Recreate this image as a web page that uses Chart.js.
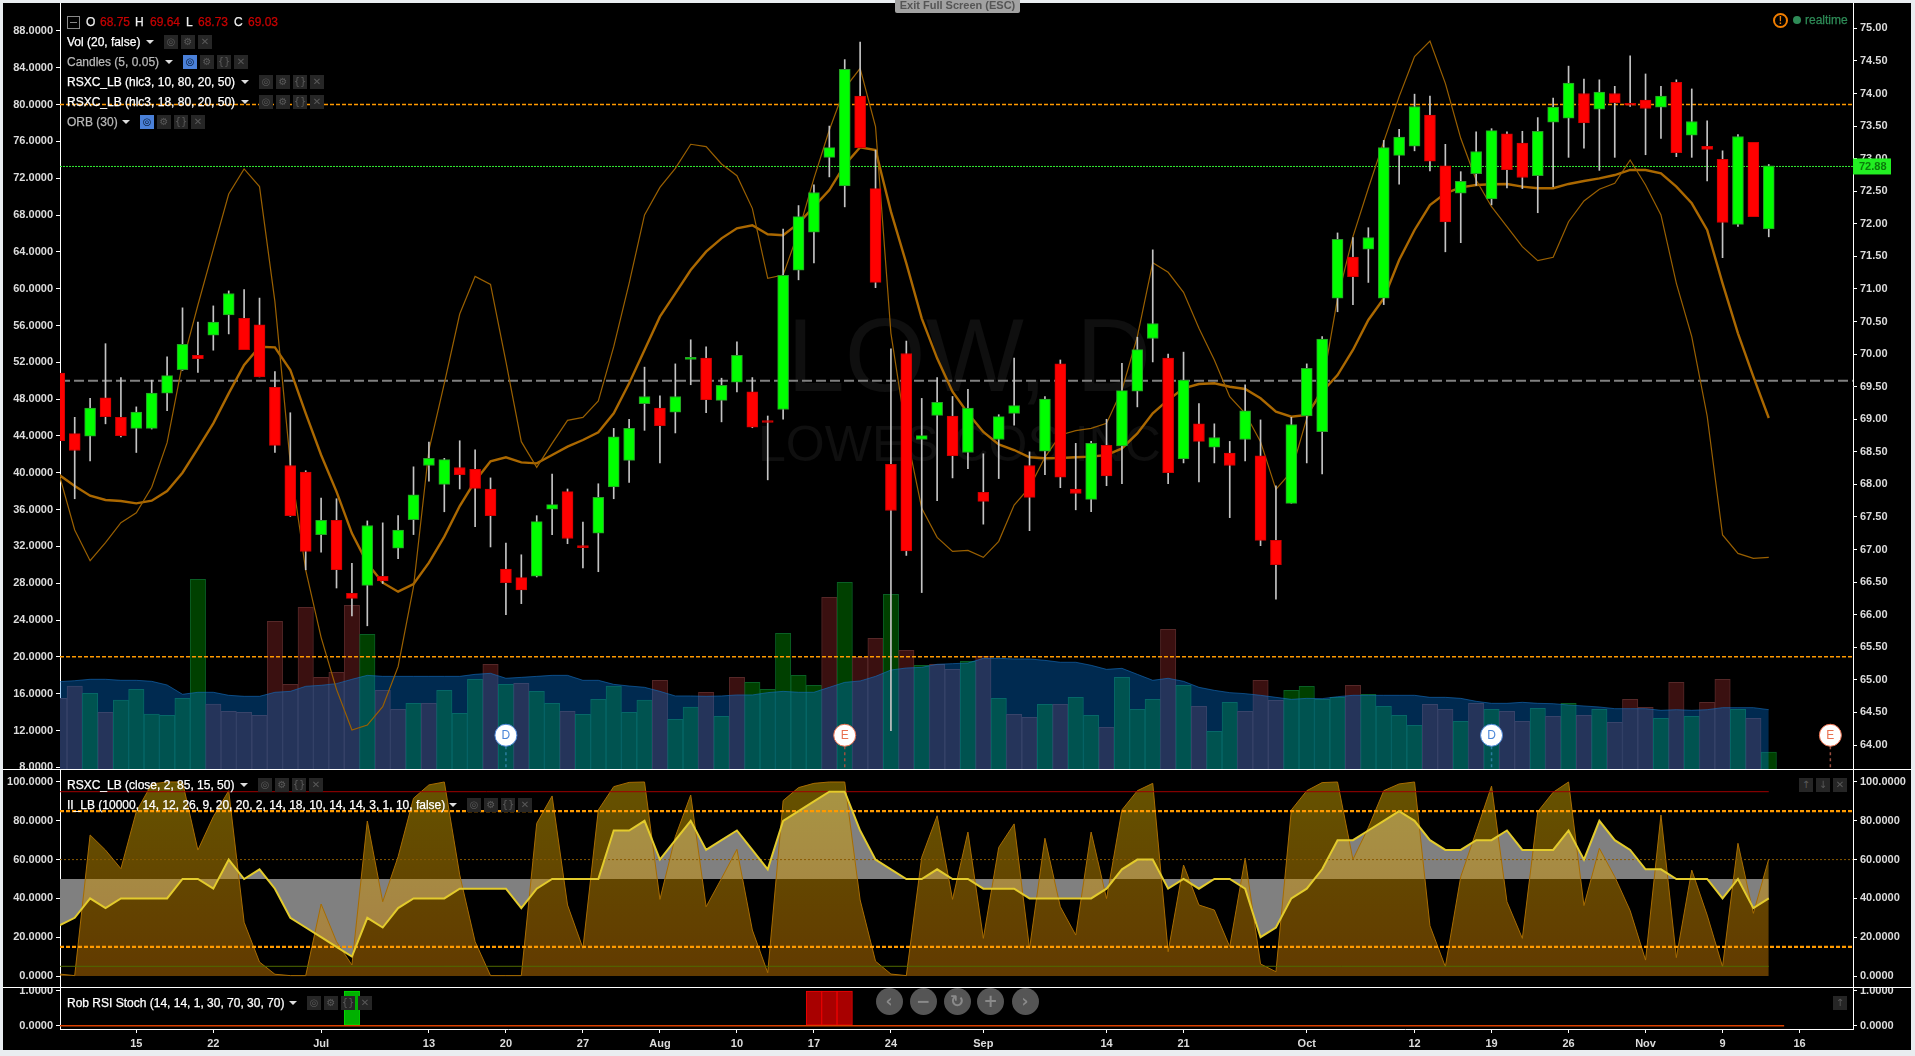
<!DOCTYPE html>
<html>
<head>
<meta charset="utf-8">
<title>LOW, D</title>
<script src="https://cdn.jsdelivr.net/npm/chart.js@4"></script>
<style>
  html, body { margin: 0; padding: 0; width: 1915px; height: 1056px; overflow: hidden; background: #e9edf0; font-family: "Liberation Sans", Arial, sans-serif; }
  #frame { position: absolute; left: 3px; top: 3px; width: 1908px; height: 1047px; background: #000; }
  canvas { position: absolute; left: 3px; }
  .t { position: absolute; white-space: nowrap; font-size: 12px; line-height: 14px; -webkit-text-stroke: 0.25px currentColor; }
  .ico { position: absolute; width: 14px; height: 14px; background: #262626; color: #5a5a5a; font-size: 10px; line-height: 14px; text-align: center; font-family: "DejaVu Sans"; }
  .caret { position: absolute; width: 0; height: 0; border-left: 4px solid transparent; border-right: 4px solid transparent; border-top: 4px solid #ddd; }
  .wm { position: absolute; color: #0f0f0f; white-space: nowrap; }
  .sep { position: absolute; left: 3px; width: 1908px; height: 1px; background: #fff; }
  .zb { position: absolute; top: 988px; width: 27px; height: 27px; border-radius: 14px; background: #555; color: #8a8a8a; font: bold 17px/27px "DejaVu Sans"; text-align: center; }
</style>
</head>
<body>
<div id="frame"></div>
<div class="wm" style="left:787px;top:300px;font-size:104px;line-height:110px">LOW, D</div>
<div class="wm" style="left:758px;top:417px;font-size:50px;line-height:54px">LOWES COS INC</div>
<canvas id="mainPane" width="1908" height="766" style="top:3px"></canvas>
<canvas id="midPane" width="1908" height="218" style="top:769px"></canvas>
<canvas id="lowPane" width="1908" height="63" style="top:987px"></canvas>
<div class="sep" style="top:769px"></div>
<div class="sep" style="top:987px"></div>
<div id="overlay"></div>
<script>
// one bar per trading day, Jun 8 to Nov 12
const xTickIdx = [5, 10, 17, 24, 29, 34, 39, 44, 49, 54, 60, 68, 73, 81, 88, 93, 98, 103, 108, 113];
const xTickLabels = ['15', '22', 'Jul', '13', '20', '27', 'Aug', '10', '17', '24', 'Sep', '14', '21', 'Oct', '12', '19', '26', 'Nov', '9', '16'];
const leftTicks = [8, 12, 16, 20, 24, 28, 32, 36, 40, 44, 48, 52, 56, 60, 64, 68, 72, 76, 80, 84, 88];
const rightTicks = [64, 64.5, 65, 65.5, 66, 66.5, 67, 67.5, 68, 68.5, 69, 69.5, 70, 70.5, 71, 71.5, 72, 72.5, 73, 73.5, 74, 74.5, 75];
const midTicks = [0, 20, 40, 60, 80, 100];
const lowTicks = [0, 1];

const opens = [69.71,68.78,68.74,69.33,69.03,68.86,68.86,69.40,69.76,69.98,
  70.29,70.60,70.55,70.45,69.49,68.29,68.19,67.23,67.45,66.33,
  66.45,66.59,67.02,67.46,68.29,68.00,68.26,68.23,67.93,66.70,
  66.57,66.59,67.62,67.89,67.04,67.25,67.96,68.37,69.24,69.17,
  69.11,69.92,69.94,69.29,69.57,69.42,68.97,69.15,71.29,71.87,
  73.02,72.58,73.96,72.54,68.31,70.01,68.69,69.06,69.05,68.49,
  67.88,68.69,69.09,68.29,68.51,69.85,67.93,67.77,68.60,68.59,
  69.43,70.24,69.94,68.39,68.93,68.57,68.48,68.69,68.44,67.14,
  67.71,69.05,68.81,70.86,71.49,71.61,70.86,73.05,73.19,73.67,
  72.89,72.47,72.77,72.38,73.38,73.24,72.74,73.56,73.62,74.00,
  73.76,74.00,73.83,73.90,73.79,74.17,73.36,73.19,72.99,71.99,
  73.25,71.92];
const highs = [69.71,69.03,69.32,70.16,69.64,69.19,69.60,69.96,70.71,70.49,
  70.74,70.97,70.99,70.86,69.73,69.10,68.21,67.79,67.78,66.79,
  67.44,67.41,67.52,68.27,68.65,68.40,68.67,68.53,68.10,67.10,
  66.92,67.52,68.16,67.93,67.42,68.01,68.86,69.00,69.80,69.36,
  69.85,70.22,70.11,69.63,70.19,69.64,69.05,71.92,72.28,72.60,
  73.50,74.52,74.79,73.13,70.08,70.20,69.32,69.64,69.35,69.46,
  68.47,69.07,69.94,68.50,69.35,69.91,68.63,68.66,69.00,69.86,
  70.26,71.60,70.00,70.03,69.24,68.93,68.66,69.53,68.99,67.98,
  69.03,69.85,70.27,71.86,71.79,71.94,73.28,73.45,73.99,73.96,
  73.22,72.80,73.41,73.46,73.41,73.42,73.63,73.93,74.42,74.22,
  74.21,74.11,74.58,74.30,74.11,74.21,74.07,73.58,73.12,73.37,
  73.25,72.91];
const lows = [68.67,67.78,68.36,68.93,68.73,68.49,68.85,69.13,69.75,69.72,
  70.06,70.31,70.07,69.65,68.49,67.51,66.69,66.96,66.41,65.98,
  65.83,66.48,66.86,67.23,68.05,67.58,67.93,67.35,67.04,66.00,
  66.17,66.58,67.23,67.09,66.72,66.66,67.78,68.03,68.83,68.33,
  68.79,69.53,69.10,68.96,69.42,68.87,68.07,69.00,71.14,71.40,
  72.72,72.26,73.17,71.02,64.22,66.91,66.34,67.75,68.10,68.24,
  67.39,68.09,68.91,67.29,68.15,67.95,67.61,67.58,67.98,68.01,
  69.19,69.88,68.01,68.33,68.04,68.33,67.49,68.36,67.06,66.24,
  67.71,68.33,68.16,70.65,70.76,71.10,70.76,72.61,73.12,72.81,
  71.57,71.71,72.59,72.29,72.55,72.54,72.17,72.57,73.02,73.16,
  72.82,73.02,73.80,73.06,73.31,73.03,73.02,72.66,71.48,71.96,
  72.11,71.80];
const closes = [68.67,68.52,69.17,69.04,68.75,69.11,69.40,69.67,70.15,69.93,
  70.49,70.93,70.07,69.65,68.60,67.52,66.97,67.45,66.69,66.25,
  67.37,66.52,67.30,67.84,68.40,68.38,68.15,67.94,67.52,66.49,
  66.38,67.43,67.69,67.17,67.03,67.80,68.73,68.86,69.35,68.90,
  69.35,69.94,69.30,69.52,69.98,68.88,68.95,71.21,72.11,72.48,
  73.17,74.37,73.17,71.10,67.60,66.98,68.75,69.26,68.44,69.17,
  67.74,69.04,69.21,67.80,69.31,68.11,67.86,68.63,68.13,69.44,
  70.07,70.47,68.18,69.60,68.66,68.72,68.29,69.13,67.14,66.77,
  68.92,69.78,70.23,71.76,71.19,71.79,73.17,73.33,73.80,72.96,
  72.03,72.65,73.11,73.43,72.83,72.71,73.42,73.79,74.16,73.55,
  74.02,73.86,73.82,73.77,73.96,73.09,73.57,73.14,72.02,73.34,
  72.11,72.89];

const volumes = [15.49,16.83,16.04,13.97,15.31,16.47,13.79,13.65,15.49,28.42,
  14.88,14.08,13.97,13.65,23.86,17.01,25.38,17.77,18.32,25.60,
  22.45,16.36,14.30,14.95,14.95,16.36,13.86,17.56,19.19,17.01,
  17.12,16.25,14.95,14.08,13.75,15.38,16.83,13.97,15.31,17.45,
  13.21,14.55,16.15,13.54,17.77,17.23,16.47,22.56,17.99,16.91,
  26.47,28.10,19.95,22.01,26.79,20.71,19.08,19.19,18.64,19.51,
  20.06,15.49,13.75,13.43,14.84,14.84,15.60,13.65,12.34,17.77,
  14.30,15.38,22.99,16.91,14.62,11.91,15.06,14.08,17.45,15.28,
  16.36,16.80,15.38,15.60,16.91,15.93,14.62,13.65,12.56,14.84,
  14.30,12.99,14.95,14.30,14.08,12.99,14.41,13.54,14.95,13.65,
  14.30,12.89,15.38,14.52,13.32,17.23,13.54,15.06,17.56,14.30,
  13.32,9.66];
const volUp = [0,0,1,0,1,1,1,1,1,1, 0,0,0,0,0,0,0,0,0,0, 1,0,0,1,0,1,1,1,0,1,
  0,1,1,0,1,1,1,1,1,0, 1,1,0,1,0,1,1,1,1,1, 0,1,0,0,1,0,1,0,0,1,
  0,1,0,0,1,0,1,1,0,1, 1,1,0,1,0,1,1,0,0,0, 1,1,1,1,0,1,1,1,1,0,
  0,1,0,1,0,0,1,0,1,0, 1,0,0,0,1,0,1,0,0,1, 0,1];
const volAvg = [17.30,17.41,17.56,17.56,17.45,17.45,17.34,16.94,15.93,16.15,
  16.15,15.82,15.71,15.71,16.15,16.25,16.80,16.91,17.09,17.56,
  17.99,17.88,17.88,17.88,17.88,17.88,17.88,18.10,18.21,17.67,
  17.77,17.88,17.99,17.99,17.45,17.45,17.01,16.83,16.69,16.25,
  15.75,15.75,15.71,15.75,15.86,15.86,16.11,16.25,16.15,16.15,
  16.69,17.23,17.38,17.88,18.57,18.79,18.86,19.19,19.26,19.33,
  19.84,19.84,19.77,19.77,19.62,19.41,19.41,19.08,18.64,18.75,
  18.10,17.45,17.67,17.34,16.69,16.36,16.11,16.00,15.82,15.60,
  15.38,15.49,15.46,15.67,15.82,15.82,15.82,15.82,15.82,15.60,
  15.60,15.49,15.17,14.95,14.95,15.06,14.95,14.91,14.77,14.66,
  14.55,14.37,14.37,14.37,14.19,14.26,14.19,14.26,14.48,14.48,
  14.48,14.26];

const rsxFast = [39.76,33.78,30.45,32.40,34.58,35.66,38.42,43.27,51.89,58.23,
  64.28,70.29,73.01,71.09,58.59,41.02,29.43,22.12,16.47,12.05,
  12.59,14.58,18.93,27.62,42.47,49.72,57.25,61.34,60.47,52.07,
  43.38,40.59,43.20,45.70,46.02,47.80,53.70,60.58,68.01,71.01,
  73.08,75.69,75.43,73.55,72.28,68.73,61.13,61.49,66.20,71.99,
  77.24,81.77,83.94,77.61,55.15,44.28,36.13,32.98,31.46,31.57,
  30.81,32.55,36.50,38.42,41.68,44.10,44.57,44.83,45.37,48.99,
  54.79,62.83,61.78,59.61,55.69,52.25,48.27,46.46,43.38,38.20,
  40.12,45.91,49.35,58.95,65.65,70.91,75.98,80.87,85.21,86.91,
  82.31,76.34,71.81,68.91,66.74,64.57,63.05,63.41,67.28,69.53,
  70.80,71.45,73.98,71.27,68.01,60.58,54.79,46.17,33.24,31.24,
  30.70,30.81];
const rsxSlow = [39.76,38.56,37.51,37.04,36.93,36.68,36.97,38.02,40.01,42.65,
  45.37,48.63,51.71,53.70,53.63,51.17,46.46,41.93,37.95,33.42,
  30.16,28.06,27.08,27.91,30.23,33.06,36.39,39.10,41.24,41.68,
  41.13,41.02,41.93,42.84,43.56,44.39,46.46,49.72,53.34,56.96,
  59.50,62.03,64.02,65.47,66.56,66.89,65.91,65.80,67.10,68.91,
  70.72,73.44,75.36,75.07,68.37,62.76,56.78,52.43,48.81,46.46,
  44.43,43.09,42.47,41.68,41.57,41.60,41.68,41.75,41.93,42.65,
  44.28,46.46,47.91,49.17,49.64,49.72,49.35,49.10,48.09,46.64,
  46.09,46.28,48.81,50.62,53.34,56.60,58.95,63.12,66.38,69.09,
  70.36,71.01,71.27,71.34,71.38,71.09,70.91,70.91,71.38,71.70,
  71.99,72.35,72.90,72.90,72.54,71.09,69.28,66.38,60.58,55.15,
  50.44,45.95];

const impulse = [1.0,0.2,72.7,64.9,55.3,84.7,99.0,100,100,64.9,
  82.1,95.5,27.7,7.2,0.9,0.2,0.2,37.1,17.7,5.7,
  79.9,38.3,61.5,91.6,98.5,100,52.1,17.7,0.2,0.2,
  0.2,78.7,92.8,36.6,14.3,85.6,97.6,99.8,100,39.5,
  71.8,93.3,35.7,50.3,65.3,23.7,1.7,90.4,97.1,99.3,
  100,100,39.2,7.6,1.0,0.2,61.2,82.6,39.5,74.2,
  19.4,66.3,78.4,14.1,71.0,35.7,21.1,74.2,39.9,85.6,
  95.5,99.3,12.5,57.2,36.6,34.0,15.1,60.7,6.2,2.2,
  85.6,95.5,99.7,100,60.1,76.5,95.5,99.0,100,25.9,
  4.8,51.2,74.4,97.9,38.3,19.4,84.7,94.7,100,36.3,
  65.8,51.2,33.7,8.2,83.0,9.5,54.6,31.4,4.8,68.4,
  32.3,60.3];
const rsxClose = [26,30,40,35,40,40,40,40,50,50,
  45,60,50,55,45,30,25,20,15,10,
  30,25,35,40,40,40,45,45,45,45,
  35,45,50,50,50,50,75,75,80,60,
  70,80,65,70,75,65,55,80,85,90,
  95,95,75,60,55,50,50,55,50,50,
  45,45,45,40,40,40,40,40,45,55,
  60,60,45,50,45,50,50,45,20,25,
  40,45,55,70,70,75,80,85,80,70,
  65,65,70,70,75,65,65,65,75,60,
  80,70,65,55,55,50,50,50,40,50,
  35,40];

const stochOver = [49, 50, 51];
const stochUnder = [19];
const eventIdx = [29, 51, 93, 115];
const eventLetters = ['D', 'E', 'D', 'E'];
const lastPrice = 72.88;

const X_MIN = 0.045, X_MAX = 116.47;
const FONT = { family: "'Liberation Sans', Arial, sans-serif", size: 11, weight: 'bold' };
const GREEN = '#00ff00', RED = '#ff0000';

Chart.defaults.animation = false;
Chart.defaults.plugins.legend.display = false;
Chart.defaults.plugins.tooltip.enabled = false;
Chart.defaults.devicePixelRatio = 1;

const pts = arr => arr.map((y, i) => ({ x: i, y: y }));

function levelLine(value, axis, color, width, dash, order, endIdx) {
  return {
    type: 'line', yAxisID: axis, order: order,
    data: [{ x: endIdx === undefined ? X_MIN : 0, y: value }, { x: endIdx === undefined ? X_MAX : endIdx, y: value }],
    borderColor: color, borderWidth: width, borderDash: dash, pointRadius: 0, fill: false
  };
}

function seriesLine(values, axis, color, width, order) {
  return {
    type: 'line', yAxisID: axis, order: order, data: pts(values),
    borderColor: color, borderWidth: width, pointRadius: 0, tension: 0, fill: false
  };
}

function yScale(position, width, min, max, tickValues, digits) {
  return {
    position: position, min: min, max: max,
    // labels at the pane edges get cut off instead of shrinking the pane
    afterFit: s => { s.width = width; s.paddingTop = 0; s.paddingBottom = 0; },
    afterBuildTicks: s => { s.ticks = tickValues.map(v => ({ value: v })); },
    grid: { drawOnChartArea: false, tickLength: 4, tickColor: '#fff' },
    border: { color: '#fff', width: 1 },
    ticks: {
      autoSkip: false, color: '#dcdcdc', font: FONT, padding: 3,
      callback: v => Number(v).toFixed(digits)
    }
  };
}

function makePane(id, datasets, scalesY, showX, plugins) {
  return new Chart(document.getElementById(id), {
    type: 'bar',
    data: { datasets: datasets },
    plugins: plugins || [],
    options: {
      responsive: false,
      layout: { padding: 0 },
      events: [],
      scales: Object.assign({
        x: {
          type: 'linear', min: X_MIN, max: X_MAX, offset: false, display: showX,
          afterFit: s => { s.paddingLeft = 0; s.paddingRight = 0; s.height = showX ? 21 : 0; },
          afterBuildTicks: s => { s.ticks = xTickIdx.map(v => ({ value: v })); },
          grid: { display: true, drawOnChartArea: false, offset: false, tickLength: 4, tickColor: '#fff' },
          border: { color: '#fff', width: 1 },
          ticks: {
            autoSkip: false, maxRotation: 0, color: '#dcdcdc', font: FONT, padding: 4,
            callback: v => xTickLabels[xTickIdx.indexOf(v)]
          }
        }
      }, scalesY)
    }
  });
}

const barBase = { barPercentage: 1, categoryPercentage: 1, grouped: false, borderSkipped: false };

// price label on the right axis and the D / E event bubbles
const mainExtras = {
  id: 'mainExtras',
  afterDatasetsDraw(chart) {
    const c = chart.ctx, yR = chart.scales.yR, x = chart.scales.x, a = chart.chartArea;
    const circleY = yR.getPixelForValue(64.15);
    eventIdx.forEach((idx, k) => {
      const px = x.getPixelForValue(idx), tint = eventLetters[k] === 'D' ? '#4a86d8' : '#e8704f';
      c.save();
      c.strokeStyle = eventLetters[k] === 'D' ? '#2a7f9e' : '#9a5040';
      c.setLineDash([3, 3]);
      c.lineWidth = 1.5;
      c.beginPath(); c.moveTo(px, circleY + 11); c.lineTo(px, a.bottom); c.stroke();
      c.setLineDash([]);
      c.fillStyle = '#fff';
      c.strokeStyle = tint;
      c.lineWidth = 1;
      c.beginPath(); c.arc(px, circleY, 11, 0, Math.PI * 2); c.fill(); c.stroke();
      c.fillStyle = tint;
      c.font = "12px 'Liberation Sans'";
      c.textAlign = 'center'; c.textBaseline = 'middle';
      c.fillText(eventLetters[k], px, circleY + 0.5);
      c.restore();
    });
  },
  afterDraw(chart) {
    const c = chart.ctx, y = chart.scales.yR.getPixelForValue(lastPrice), a = chart.chartArea;
    c.save();
    c.fillStyle = '#22ee22';
    c.fillRect(a.right, y - 8, 38, 16);
    c.fillStyle = '#0b7a0b';
    c.font = "bold 11px 'Liberation Sans'";
    c.textAlign = 'left'; c.textBaseline = 'middle';
    c.fillText(lastPrice.toFixed(2), a.right + 6, y + 0.5);
    c.restore();
  }
};

makePane('mainPane', [
  levelLine(80, 'yL', '#ff9900', 1.5, [4, 2], 7),
  levelLine(20, 'yL', '#ff9900', 1.5, [4, 2], 7),
  levelLine(50, 'yL', '#808080', 2, [10, 4], 7),
  levelLine(lastPrice, 'yR', '#33ee33', 1, [2, 1], 7),
  seriesLine(rsxFast, 'yL', '#9a6000', 1.2, 5),
  seriesLine(rsxSlow, 'yL', '#ab6800', 2.4, 5),
  Object.assign({
    type: 'line', yAxisID: 'yL', order: 8, data: pts(volAvg), pointRadius: 0, tension: 0,
    borderColor: 'rgba(20,110,190,0.6)', borderWidth: 1,
    backgroundColor: 'rgba(0,121,230,0.35)', fill: 'start'
  }),
  Object.assign({}, barBase, {
    yAxisID: 'yL', order: 9, data: pts(volumes),
    backgroundColor: volUp.map(u => u ? '#004000' : '#3a1010'),
    borderColor: volUp.map(u => u ? '#0a5f25' : '#562828'), borderWidth: 1
  }),
  Object.assign({}, barBase, {
    yAxisID: 'yR', order: 3, maxBarThickness: 1,
    data: highs.map((h, i) => ({ x: i, y: [lows[i], h] })),
    backgroundColor: '#c4c4c4', borderWidth: 0
  }),
  Object.assign({}, barBase, {
    yAxisID: 'yR', order: 2, maxBarThickness: 11, minBarLength: 2,
    data: opens.map((o, i) => ({ x: i, y: [o, closes[i]] })),
    backgroundColor: closes.map((c, i) => c >= opens[i] ? GREEN : RED),
    borderColor: closes.map((c, i) => c >= opens[i] ? '#2a9a2a' : '#d00000'), borderWidth: 1
  })
], {
  yL: yScale('left', 57, 7.815, 91.04, leftTicks, 4),
  yR: yScale('right', 58, 63.632, 75.389, rightTicks, 2)
}, false, [mainExtras]);

// gold fill fades from olive at the top to brown at the bottom
function goldFill(ctx) {
  const chart = ctx.chart;
  if (!chart.chartArea) return 'rgba(212,150,0,0.48)';
  const yS = chart.scales.yL;
  const g = chart.ctx.createLinearGradient(0, yS.getPixelForValue(100), 0, yS.getPixelForValue(0));
  g.addColorStop(0, 'rgba(212,172,0,0.48)');
  g.addColorStop(0.25, 'rgba(210,160,0,0.48)');
  g.addColorStop(1, 'rgba(205,122,0,0.48)');
  return g;
}

makePane('midPane', [
  {
    type: 'line', yAxisID: 'yL', order: 9, data: pts(rsxClose), pointRadius: 0, tension: 0,
    borderWidth: 0, backgroundColor: '#808080', fill: { value: 50 }
  },
  {
    type: 'line', yAxisID: 'yL', order: 8, data: pts(impulse), pointRadius: 0, tension: 0,
    borderColor: '#a86c00', borderWidth: 1, backgroundColor: goldFill, fill: { value: 0 }
  },
  levelLine(95, 'yL', '#a00000', 1, [], 6, 111),
  levelLine(5, 'yL', '#4f6a00', 1, [], 6, 111),
  levelLine(60, 'yL', '#8a5a00', 1, [2, 2], 5),
  levelLine(85, 'yL', '#ff9a00', 2.2, [4, 2], 4),
  levelLine(15, 'yL', '#ff9a00', 2.2, [4, 2], 4),
  seriesLine(rsxClose, 'yL', '#e3cb2c', 2, 2)
], {
  yL: yScale('left', 57, -5.67, 106.7, midTicks, 4),
  yR: yScale('right', 58, -5.67, 106.7, midTicks, 4)
}, false);

makePane('lowPane', [
  Object.assign({}, barBase, {
    yAxisID: 'yL', order: 5, data: stochUnder.map(i => ({ x: i, y: 1 })),
    backgroundColor: '#00b000', borderColor: '#00dd00', borderWidth: 1
  }),
  Object.assign({}, barBase, {
    yAxisID: 'yL', order: 5, data: stochOver.map(i => ({ x: i, y: 1 })),
    backgroundColor: '#a80000', borderColor: '#ee0000', borderWidth: 1
  }),
  levelLine(0, 'yL', '#d84000', 1.5, [], 2, 112)
], {
  yL: yScale('left', 57, -0.095, 1.115, lowTicks, 4),
  yR: yScale('right', 58, -0.095, 1.115, lowTicks, 4)
}, true);

// study legend, toolbar buttons and the other page furniture
const overlay = document.getElementById('overlay');
function addText(text, left, top, color, extra) {
  const d = document.createElement('div');
  d.className = 't';
  d.textContent = text;
  d.style.left = left + 'px';
  d.style.top = top + 'px';
  d.style.color = color;
  if (extra) d.style.cssText += extra;
  overlay.appendChild(d);
  return d;
}
function addIcons(left, top, glyphs, blue) {
  glyphs.forEach((g, k) => {
    const d = document.createElement('div');
    d.className = 'ico';
    d.textContent = g;
    d.style.left = left + k * 17 + 'px';
    d.style.top = top + 'px';
    if (blue && k === 0) { d.style.background = '#4a80d8'; d.style.color = '#04152e'; }
    overlay.appendChild(d);
  });
}
function addStudy(text, top, color, caretX, iconX, glyphs, blue) {
  addText(text, 67, top - 7, color);
  const c = document.createElement('div');
  c.className = 'caret';
  c.style.left = caretX + 'px';
  c.style.top = top - 2 + 'px';
  overlay.appendChild(c);
  addIcons(iconX, top - 7, glyphs, blue);
}
const EYE = '◎', GEAR = '⚙', CODE = '{}', CLOSE = '✕';
const all4 = [EYE, GEAR, CODE, CLOSE];

const box = document.createElement('div');
box.style.cssText = 'position:absolute;left:67px;top:16px;width:11px;height:11px;border:1px solid #888;';
box.innerHTML = '<div style="position:absolute;left:2px;top:5px;width:7px;height:1px;background:#888"></div>';
overlay.appendChild(box);
[['O', 86, '#eee'], ['68.75', 100, '#c80000'], ['H', 135, '#eee'], ['69.64', 150, '#c80000'],
 ['L', 186, '#eee'], ['68.73', 198, '#c80000'], ['C', 234, '#eee'], ['69.03', 248, '#c80000']]
  .forEach(p => addText(p[0], p[1], 15, p[2]));

addStudy('Vol (20, false)', 42, '#fff', 146, 164, [EYE, GEAR, CLOSE]);
addStudy('Candles (5, 0.05)', 62, '#b8b8b8', 165, 183, all4, true);
addStudy('RSXC_LB (hlc3, 10, 80, 20, 50)', 82, '#fff', 241, 259, all4);
addStudy('RSXC_LB (hlc3, 18, 80, 20, 50)', 102, '#fff', 241, 259, all4);
addStudy('ORB (30)', 122, '#b8b8b8', 122, 140, all4, true);
addStudy('RSXC_LB (close, 2, 85, 15, 50)', 785, '#fff', 240, 258, all4);
addStudy('II_LB (10000, 14, 12, 26, 9, 20, 20, 2, 14, 18, 10, 14, 14, 3, 1, 10, false)', 805, '#fff', 449, 467, all4);
addStudy('Rob RSI Stoch (14, 14, 1, 30, 70, 30, 70)', 1003, '#fff', 289, 307, all4);

addIcons(1799, 778, ['↑', '↓', CLOSE]);
addIcons(1833, 996, ['↑']);

addText('Exit Full Screen (ESC)', 895, 0, '#555',
  'width:125px;height:13px;line-height:11px;font-size:11px;background:#a2a2a2;text-align:center;border-radius:0 0 2px 2px;font-weight:bold;-webkit-text-stroke:0;');

const warn = document.createElement('div');
warn.style.cssText = 'position:absolute;left:1773px;top:13px;width:11px;height:11px;border:2px solid #f07d00;border-radius:8px;color:#f07d00;font:bold 10px/11px "Liberation Sans";text-align:center;';
warn.textContent = '!';
overlay.appendChild(warn);
const dot = document.createElement('div');
dot.style.cssText = 'position:absolute;left:1793px;top:16px;width:8px;height:8px;border-radius:4px;background:#2e8b57;';
overlay.appendChild(dot);
addText('realtime', 1805, 13, '#2e8b57');

[['‹', 889], ['−', 923], ['↻', 957], ['+', 990.5], ['›', 1025]].forEach(b => {
  const d = document.createElement('div');
  d.className = 'zb';
  d.textContent = b[0];
  d.style.left = b[1] - 13.5 + 'px';
  overlay.appendChild(d);
});
</script>
</body>
</html>
